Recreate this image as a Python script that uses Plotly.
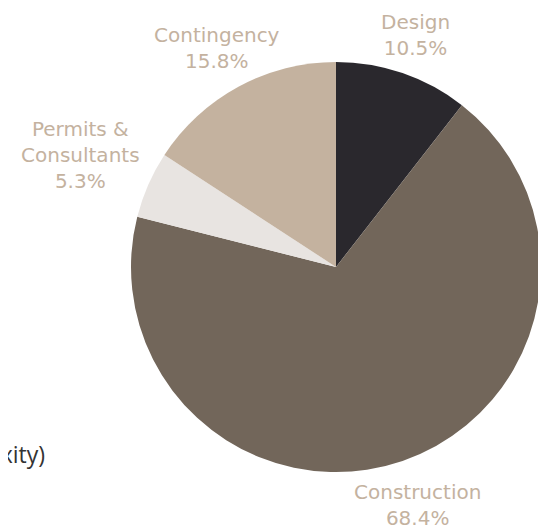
import math
import plotly.graph_objects as go

categories = ["Design", "Construction", "Permits &<br>Consultants", "Contingency"]
values = [20, 130, 10, 30]
colors = ["#2a282d", "#72665a", "#e8e4e1", "#c4b29f"]

W, H = 546, 529
OFF = 8  # page body margin
cx, cy, r = 336 - OFF, 267 - OFF, 205
label_dist = [1.195, 1.23, 1.36, 1.215]

fig = go.Figure(go.Pie(
    labels=categories,
    values=values,
    sort=False,
    direction="clockwise",
    rotation=0,
    marker=dict(colors=colors, line=dict(width=0)),
    textposition="none",
    hoverinfo="label+percent",
    domain=dict(x=[(cx - r) / W, (cx + r) / W], y=[1 - (cy + r) / H, 1 - (cy - r) / H]),
    showlegend=False,
))

total = sum(values)
cum = 0.0
for lab, v, k in zip(categories, values, label_dist):
    mid = (cum + v / 2) / total * 2 * math.pi
    cum += v
    px = cx + k * r * math.sin(mid)
    py = cy - k * r * math.cos(mid)
    fig.add_annotation(
        text=f"{lab}<br>{v / total * 100:.1f}%", xref="paper", yref="paper",
        x=px / W, y=1 - py / H, xanchor="center", yanchor="middle",
        showarrow=False, align="center",
        font=dict(family="DejaVu Sans", size=20, color="#c4b29f"),
    )

fig.add_annotation(
    text="(complexity)", xref="paper", yref="paper",
    x=(47 - OFF) / W, y=1 - (454 - OFF) / H, xanchor="right", yanchor="middle",
    showarrow=False, font=dict(family="Open Sans", size=23, color="#333333"),
)

fig.update_layout(
    width=W, height=H,
    margin=dict(l=0, r=0, t=0, b=0),
    paper_bgcolor="white", plot_bgcolor="white",
)
fig.write_html("out.html")
